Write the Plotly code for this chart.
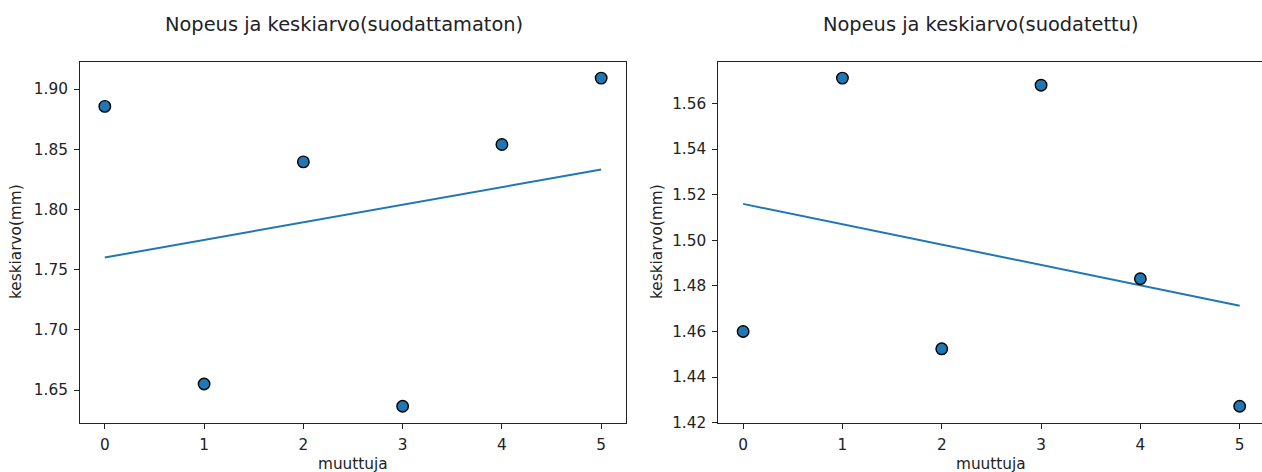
import numpy as np
import plotly.graph_objects as go

# ---- data ----
x_vals = [0, 1, 2, 3, 4, 5]
raw_means = [1.8856, 1.6550, 1.8395, 1.6365, 1.8539, 1.9091]
filt_means = [1.4600, 1.5711, 1.4524, 1.5680, 1.4831, 1.4272]
panel_titles = ["Nopeus ja keskiarvo(suodattamaton)", "Nopeus ja keskiarvo(suodatettu)"]
x_label = "muuttuja"
y_label = "keskiarvo(mm)"
left_yticks = [1.65, 1.70, 1.75, 1.80, 1.85, 1.90]
right_yticks = [1.42, 1.44, 1.46, 1.48, 1.50, 1.52, 1.54, 1.56]

W, H = 1262, 472
BLUE = "#1f77b4"
FONT = "DejaVu Sans"


def px_x(p):
    return p / W


def px_y(p):
    return 1 - p / H


def pad_range(vals, frac=0.05):
    lo, hi = min(vals), max(vals)
    d = (hi - lo) * frac
    return [lo - d, hi + d]


fig = go.Figure()

for i, ys in enumerate([raw_means, filt_means]):
    xa = "x" if i == 0 else "x2"
    ya = "y" if i == 0 else "y2"
    slope, icpt = np.polyfit(x_vals, ys, 1)
    xs_fit = np.array([min(x_vals), max(x_vals)], dtype=float)
    fig.add_trace(go.Scatter(x=xs_fit, y=slope * xs_fit + icpt, mode="lines",
                             line=dict(color=BLUE, width=2), xaxis=xa, yaxis=ya,
                             showlegend=False))
    fig.add_trace(go.Scatter(x=x_vals, y=ys, mode="markers",
                             marker=dict(color=BLUE, size=11.5,
                                         line=dict(color="black", width=1.4)),
                             xaxis=xa, yaxis=ya, showlegend=False))

axis_common = dict(showgrid=False, zeroline=False, showline=True, linecolor="#222",
                   linewidth=1.1, ticks="outside", ticklen=5, tickwidth=1.1,
                   automargin=False, ticklabelstandoff=3,
                   tickcolor="#222", tickfont=dict(family=FONT, size=15.3, color="#222"))

ydom = [px_y(422.7), px_y(61.7)]
fig.update_layout(
    width=W, height=H, margin=dict(l=0, r=0, t=0, b=0, autoexpand=False),
    paper_bgcolor="white", plot_bgcolor="white",
    xaxis=dict(domain=[px_x(80), px_x(626)], range=[-0.25, 5.25], tickvals=x_vals,
               mirror=True, anchor="y", **axis_common),
    yaxis=dict(domain=ydom, range=pad_range(raw_means), tickvals=left_yticks,
               tickformat=".2f", mirror=True, anchor="x", **axis_common),
    xaxis2=dict(domain=[px_x(718.3), 1.0], range=[-0.25, 5.2248], tickvals=x_vals,
                mirror=True, anchor="y2", **axis_common),
    yaxis2=dict(domain=ydom, range=pad_range(filt_means), tickvals=right_yticks,
                tickformat=".2f", mirror=False, anchor="x2", **axis_common),
)

annots = []
for tx, t in zip([344, 981], panel_titles):
    annots.append(dict(text=t, x=px_x(tx), y=px_y(25), xref="paper", yref="paper",
                       showarrow=False, xanchor="center", yanchor="middle",
                       font=dict(family=FONT, size=19.4, color="#222")))
for tx in [353, 991]:
    annots.append(dict(text=x_label, x=px_x(tx), y=px_y(464), xref="paper", yref="paper",
                       showarrow=False, xanchor="center", yanchor="middle",
                       font=dict(family=FONT, size=15.3, color="#222")))
for tx in [16, 657]:
    annots.append(dict(text=y_label, x=px_x(tx), y=px_y(242), xref="paper", yref="paper",
                       showarrow=False, xanchor="center", yanchor="middle", textangle=-90,
                       font=dict(family=FONT, size=15.3, color="#222")))
fig.update_layout(annotations=annots)

fig.write_html("out.html", config={"displayModeBar": False},
               post_script="document.body.style.margin='0';document.body.style.overflow='hidden';")
